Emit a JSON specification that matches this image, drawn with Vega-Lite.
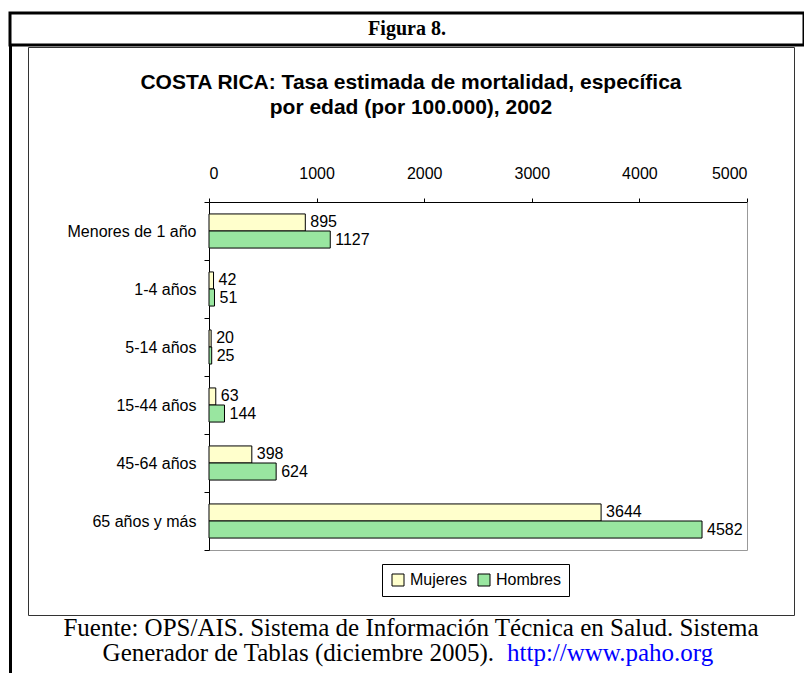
{
  "$schema": "https://vega.github.io/schema/vega-lite/v6.json",
  "padding": {"left": 8, "top": 11, "right": 0, "bottom": 0},
  "background": "white",
  "spacing": -13,
  "config": {"font": "Liberation Sans", "axis": {"labelColor": "black", "labelFont": "Liberation Sans", "minExtent": 0, "maxExtent": 0}},
  "datasets": {
    "rates": [
      {"grupo": "Menores de 1 año", "sexo": "Mujeres", "valor": 895},
      {"grupo": "Menores de 1 año", "sexo": "Hombres", "valor": 1127},
      {"grupo": "1-4 años", "sexo": "Mujeres", "valor": 42},
      {"grupo": "1-4 años", "sexo": "Hombres", "valor": 51},
      {"grupo": "5-14 años", "sexo": "Mujeres", "valor": 20},
      {"grupo": "5-14 años", "sexo": "Hombres", "valor": 25},
      {"grupo": "15-44 años", "sexo": "Mujeres", "valor": 63},
      {"grupo": "15-44 años", "sexo": "Hombres", "valor": 144},
      {"grupo": "45-64 años", "sexo": "Mujeres", "valor": 398},
      {"grupo": "45-64 años", "sexo": "Hombres", "valor": 624},
      {"grupo": "65 años y más", "sexo": "Mujeres", "valor": 3644},
      {"grupo": "65 años y más", "sexo": "Hombres", "valor": 4582}
    ]
  },
  "vconcat": [
    {
      "width": 794,
      "height": 32,
      "view": {"stroke": "black", "strokeWidth": 3},
      "data": {"values": [{"t": "Figura 8."}]},
      "mark": {"type": "text", "font": "Liberation Serif", "fontSize": 20, "fontWeight": "bold", "color": "black", "baseline": "middle"},
      "encoding": {"text": {"field": "t"}}
    },
    {
      "spacing": 15,
      "hconcat": [
        {
          "width": 1,
          "height": 628,
          "view": {"stroke": "black", "strokeWidth": 2},
          "data": {"values": []},
          "mark": "point",
          "encoding": {}
        },
        {
          "spacing": 0,
          "vconcat": [
            {
              "width": 766,
              "height": 568,
              "view": {"stroke": "#333333", "strokeWidth": 1},
              "title": {
                "text": ["COSTA RICA: Tasa estimada de mortalidad, específica", "por edad (por 100.000), 2002"],
                "anchor": "middle",
                "frame": "group",
                "offset": -79,
                "font": "Liberation Sans",
                "fontSize": 21,
                "fontWeight": "bold",
                "lineHeight": 25,
                "color": "black"
              },
              "data": {"name": "rates"},
              "layer": [
                {
                  "mark": {"type": "bar", "stroke": "black", "strokeWidth": 1},
                  "encoding": {
                    "y": {
                      "field": "grupo", "type": "nominal",
                      "sort": ["Menores de 1 año", "1-4 años", "5-14 años", "15-44 años", "45-64 años", "65 años y más"],
                      "scale": {"range": [155, 503], "paddingInner": 0, "paddingOuter": 0},
                      "axis": {"orient": "left", "offset": -181, "tickBand": "extent", "title": null, "domainColor": "black", "tickColor": "black", "tickSize": 5, "labelFontSize": 16, "labelPadding": 8}
                    },
                    "x": {
                      "field": "valor", "type": "quantitative",
                      "scale": {"domain": [0, 5000], "range": [181, 719], "nice": false},
                      "axis": {"orient": "top", "offset": -155, "values": [0, 1000, 2000, 3000, 4000, 5000], "format": "d", "title": null, "grid": false, "domainColor": "black", "tickColor": "black", "tickSize": 4, "labelFontSize": 16, "labelPadding": 17}
                    },
                    "yOffset": {"field": "sexo", "type": "nominal", "sort": ["Mujeres", "Hombres"], "scale": {"paddingInner": 0, "paddingOuter": 0.7}},
                    "color": {
                      "field": "sexo", "type": "nominal",
                      "scale": {"domain": ["Mujeres", "Hombres"], "range": ["#FFFFCC", "#99E6A0"]},
                      "legend": {"orient": "none", "legendX": 372, "legendY": 551, "direction": "horizontal", "title": null, "strokeColor": "black", "fillColor": "white", "padding": 8, "symbolType": "square", "symbolSize": 144, "symbolStrokeColor": "black", "symbolStrokeWidth": 1, "labelFontSize": 16, "labelOffset": 4, "columnPadding": 9, "labelColor": "black"}
                    }
                  }
                },
                {
                  "mark": {"type": "text", "align": "left", "baseline": "middle", "dx": 5, "fontSize": 16, "color": "black"},
                  "encoding": {
                    "y": {
                      "field": "grupo", "type": "nominal",
                      "sort": ["Menores de 1 año", "1-4 años", "5-14 años", "15-44 años", "45-64 años", "65 años y más"],
                      "axis": {"orient": "right", "offset": -47, "domainColor": "#999999", "ticks": false, "labels": false, "title": null, "grid": false}
                    },
                    "x": {
                      "field": "valor", "type": "quantitative",
                      "axis": {"orient": "bottom", "offset": -65, "domainColor": "#999999", "ticks": false, "labels": false, "title": null, "grid": false}
                    },
                    "yOffset": {"field": "sexo", "type": "nominal", "sort": ["Mujeres", "Hombres"]},
                    "text": {"field": "valor", "type": "quantitative", "format": "d"}
                  }
                }
              ],
              "resolve": {"axis": {"x": "independent", "y": "independent"}}
            },
            {
              "width": 766,
              "height": 60,
              "view": {"stroke": null},
              "data": {"values": [
                {"linea": 1, "parte": "a", "texto": "Fuente: OPS/AIS. Sistema de Información Técnica en Salud. Sistema"},
                {"linea": 2, "parte": "b", "texto": "Generador de Tablas (diciembre 2005)."},
                {"linea": 2, "parte": "c", "texto": "http://www.paho.org"}
              ]},
              "layer": [
                {
                  "transform": [{"filter": "datum.parte == 'a'"}],
                  "mark": {"type": "text", "font": "Liberation Serif", "fontSize": 25, "color": "black", "baseline": "middle", "align": "center"},
                  "encoding": {
                    "y": {"field": "linea", "type": "ordinal", "scale": {"type": "point", "domain": [1, 2], "range": [12, 37], "padding": 0}, "axis": null},
                    "text": {"field": "texto"}
                  }
                },
                {
                  "transform": [{"filter": "datum.parte == 'b'"}],
                  "mark": {"type": "text", "font": "Liberation Serif", "fontSize": 25, "color": "black", "baseline": "middle", "align": "right", "dx": 83},
                  "encoding": {
                    "y": {"field": "linea", "type": "ordinal", "axis": null},
                    "text": {"field": "texto"}
                  }
                },
                {
                  "transform": [{"filter": "datum.parte == 'c'"}],
                  "mark": {"type": "text", "font": "Liberation Serif", "fontSize": 25, "color": "#0000FF", "baseline": "middle", "align": "left", "dx": 96},
                  "encoding": {
                    "y": {"field": "linea", "type": "ordinal", "axis": null},
                    "text": {"field": "texto"}
                  }
                }
              ]
            }
          ]
        }
      ]
    }
  ]
}
